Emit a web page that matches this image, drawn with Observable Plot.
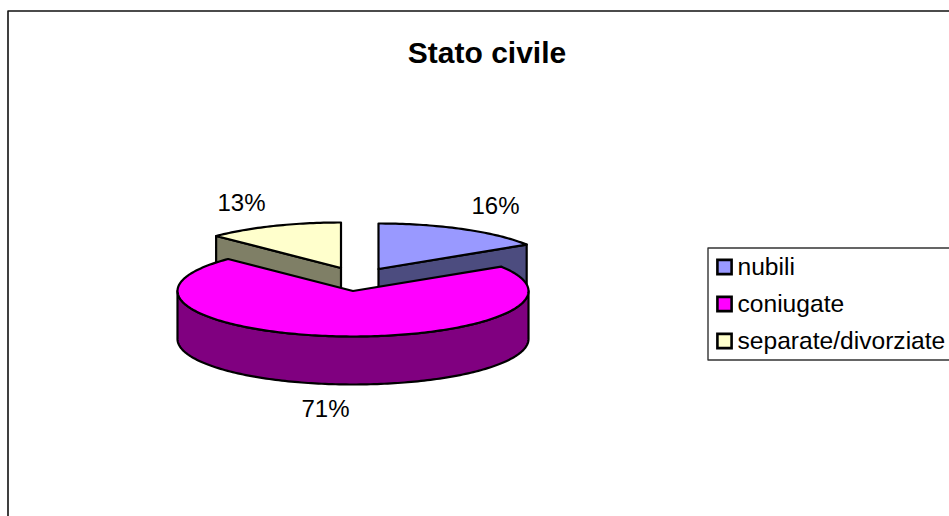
<!DOCTYPE html>
<html><head><meta charset="utf-8">
<script src="https://cdn.jsdelivr.net/npm/d3@7"></script>
<script src="https://cdn.jsdelivr.net/npm/@observablehq/plot@0.6"></script>
<style>html,body{margin:0;padding:0;background:#fff}svg{display:block}</style>
</head><body><div id="c"></div>
<script>
const title = "Stato civile";
const categories = ["nubili", "coniugate", "separate/divorziate"];
const values = [16, 71.4, 12.6];
const percentLabels = ["16%", "71%", "13%"];
const topColors = ["#9999ff", "#ff00ff", "#ffffcc"];
const sideColors = ["#4c4c7f", "#800080", "#7f7f66"];

// exploded pie layout, in page pixels
const centerX = [378, 352.5, 340.5], centerY = [268.5, 290.5, 267.5];
const rx = 175.5, ry = 45.5, depth = 48;
const labelX = [495, 325, 241], labelY = [206, 408.5, 203];
const legendY = [266.5, 303.5, 340.5];

const total = d3.sum(values);
const starts = values.map((_, i) => d3.sum(values.slice(0, i)) / total * 2 * Math.PI);
const ends = values.map((_, i) => d3.sum(values.slice(0, i + 1)) / total * 2 * Math.PI);
const rim = (i, a, dz = 0) => ({x: centerX[i] + rx * Math.sin(a), y: centerY[i] - ry * Math.cos(a) + dz});
const arc = (i, a0, a1, dz = 0) => {
  const n = Math.ceil(Math.abs(a1 - a0) / 0.02);
  return d3.range(n + 1).map(k => rim(i, a0 + (a1 - a0) * k / n, dz));
};
const apex = (i, dz = 0) => ({x: centerX[i], y: centerY[i] + dz});
const closed = p => [...p, p[0]];
const topFace = i => closed([apex(i), ...arc(i, starts[i], ends[i])]);
const cutFace = (i, a) => closed([apex(i), rim(i, a), rim(i, a, depth), apex(i, depth)]);
const wall = i => closed([...arc(i, Math.PI / 2, 3 * Math.PI / 2), ...arc(i, 3 * Math.PI / 2, Math.PI / 2, depth)]);

const poly = (pts, fill) => Plot.line(pts, {x: "x", y: "y", fill, stroke: "#000", strokeWidth: 2.2, curve: "linear"});

const legendRows = categories.map((name, i) => ({name, y: legendY[i], color: topColors[i]}));
const legendBox = [{x: 949, y: 247.5}, {x: 707.5, y: 247.5}, {x: 707.5, y: 359.5}, {x: 949, y: 359.5}];
const frameBox = [{x: 7.5, y: 516}, {x: 7.5, y: 10.5}, {x: 949, y: 10.5}];

const chart = Plot.plot({
  width: 949, height: 516,
  margin: 0,
  x: {domain: [0, 949], range: [0, 949], axis: null},
  y: {domain: [0, 516], range: [0, 516], axis: null},
  style: {fontFamily: "'Liberation Sans', Arial, sans-serif", background: "#fff", color: "#000"},
  marks: [
    Plot.line(frameBox, {x: "x", y: "y", stroke: "#111", strokeWidth: 1.6, curve: "linear"}),
    Plot.text([title], {x: () => 486.5, y: () => 53, text: d => d, fontSize: 30, fontWeight: "bold", fill: "#000"}),

    poly(cutFace(2, starts[2]), sideColors[2]),
    poly(topFace(2), topColors[2]),
    poly(cutFace(0, ends[0]), sideColors[0]),
    poly(topFace(0), topColors[0]),
    poly(wall(1), sideColors[1]),
    poly(topFace(1), topColors[1]),

    Plot.text(percentLabels, {x: (_, i) => labelX[i], y: (_, i) => labelY[i], text: d => d, fontSize: 24, fill: "#000"}),

    Plot.line(legendBox, {x: "x", y: "y", stroke: "#333", strokeWidth: 1.4, curve: "linear"}),
    Plot.dot(legendRows, {x: () => 724, y: "y", symbol: "square", r: 8, fill: "color", stroke: "#000", strokeWidth: 2.6}),
    Plot.text(legendRows, {x: () => 737, y: "y", text: "name", textAnchor: "start", fontSize: 24.6, fill: "#000"})
  ]
});
document.getElementById("c").append(chart);
</script></body></html>
